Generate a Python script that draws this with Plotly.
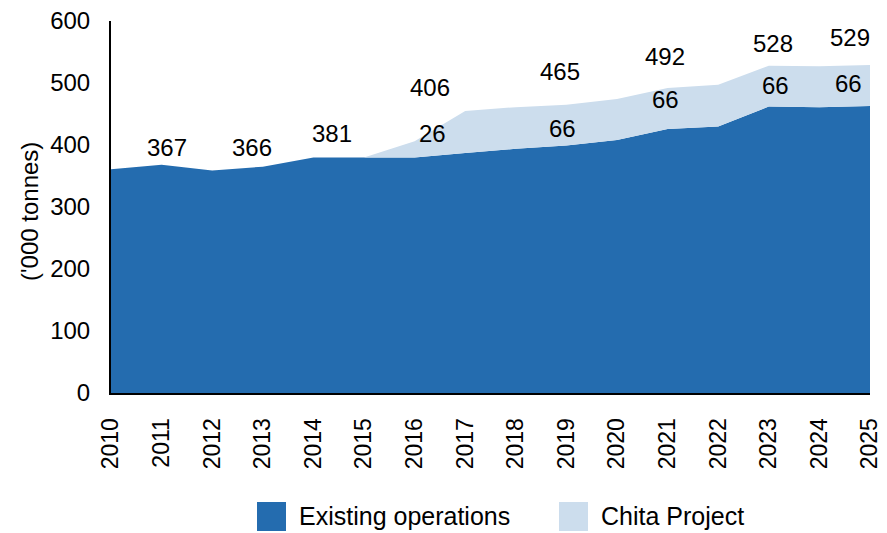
import plotly.graph_objects as go

# Production profile, '000 tonnes
years = list(range(2010, 2026))
existing = [361, 368, 359, 365, 380, 380, 380, 387, 394, 399, 408, 426, 430, 462, 461, 463]
chita = [0, 0, 0, 0, 0, 0, 26, 68, 67, 66, 66, 66, 67, 66, 66, 66]

total_label_years = [2011, 2013, 2014, 2016, 2019, 2021, 2023, 2025]
total_labels = [367, 366, 381, 406, 465, 492, 528, 529]
chita_label_years = [2016, 2019, 2021, 2023, 2025]
chita_labels = [26, 66, 66, 66, 66]

DARK = '#246CAF'
LIGHT = '#CCDDED'
FONT = 'Liberation Sans, Arial, sans-serif'

# pixel nudges for the value labels (styling only)
total_shift = [(5, 17), (-11, 19), (19, 24), (15, 54), (-6, 33), (-3, 31), (4, 22), (-20, 28)]
chita_shift = [(18, 16), (-4, -3), (-2, 9), (7, 1), (-22, 2)]

# plot area in pixels (for paper-coordinate helpers)
L, R, T, B = 111, 870, 21, 393
def px(x):
    return (x - L) / (R - L)
def py(y):
    return (B - y) / (B - T)

fig = go.Figure()

fig.add_trace(go.Scatter(
    x=years, y=existing, name='Existing operations',
    mode='lines', stackgroup='one',
    line=dict(width=0, color=DARK), fillcolor=DARK,
    showlegend=False,
))
fig.add_trace(go.Scatter(
    x=years, y=chita, name='Chita Project',
    mode='lines', stackgroup='one',
    line=dict(width=0, color=LIGHT), fillcolor=LIGHT,
    showlegend=False,
))

annotations = []
tops = {y: e + c for y, e, c in zip(years, existing, chita)}
mids = {y: e + c / 2 for y, e, c in zip(years, existing, chita)}
for yr, lab, (dx, dy) in zip(total_label_years, total_labels, total_shift):
    annotations.append(dict(x=yr, y=tops[yr], text=str(lab), showarrow=False,
                            xshift=dx, yshift=dy, font=dict(size=24, color='#000')))
for yr, lab, (dx, dy) in zip(chita_label_years, chita_labels, chita_shift):
    annotations.append(dict(x=yr, y=mids[yr], text=str(lab), showarrow=False,
                            xshift=dx, yshift=dy, font=dict(size=24, color='#000')))

# y-axis title
annotations.append(dict(xref='paper', yref='paper', x=px(29), y=py(212),
                        text="('000 tonnes)", textangle=-90, showarrow=False,
                        xanchor='center', yanchor='middle',
                        font=dict(size=24, color='#000')))

# manual legend
legend_items = [('Existing operations', DARK, 257), ('Chita Project', LIGHT, 559)]
shapes = []
for name, col, x0 in legend_items:
    shapes.append(dict(type='rect', xref='paper', yref='paper',
                       x0=px(x0), x1=px(x0 + 29), y0=py(531), y1=py(502),
                       fillcolor=col, line=dict(width=0)))
    annotations.append(dict(xref='paper', yref='paper', x=px(x0 + 40), y=py(516),
                            xanchor='left', yanchor='middle',
                            text=name, showarrow=False, font=dict(size=25, color='#000')))

fig.update_layout(
    width=887, height=533,
    margin=dict(l=L, r=887 - R, t=T, b=533 - B, autoexpand=False),
    paper_bgcolor='white', plot_bgcolor='white',
    font=dict(family=FONT, size=24, color='#000'),
    showlegend=False,
    annotations=annotations,
    shapes=shapes,
    xaxis=dict(
        range=[2010, 2025], tickvals=years, ticktext=[str(y) for y in years],
        tickangle=-90, showgrid=False, zeroline=False, automargin=False,
        showline=True, linecolor='black', linewidth=2,
        ticks='', ticklabelstandoff=14, tickfont=dict(size=23),
    ),
    yaxis=dict(
        range=[0, 600], dtick=100, showgrid=False, zeroline=False, automargin=False,
        showline=True, linecolor='black', linewidth=2,
        ticks='', ticklabelstandoff=14, tickfont=dict(size=24),
    ),
)

# drop the browser's default page margin so the figure sits at the top-left corner
fig.write_html("out.html", config={'displayModeBar': False},
               post_script="document.body.style.margin='0px';")
